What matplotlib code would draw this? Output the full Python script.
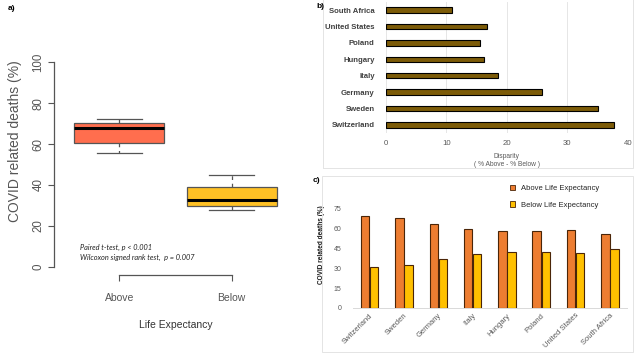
import matplotlib.pyplot as plt
from matplotlib.patches import Patch, Rectangle

plt.rcParams['font.family'] = ['Liberation Sans', 'DejaVu Sans']

# panel a: box summaries
groups = ['Above', 'Below']
box_low = [55.6, 28.0]
box_q1 = [60.7, 29.5]
box_med = [67.8, 32.7]
box_q3 = [70.2, 39.2]
box_high = [72.4, 44.7]
box_colors = ['#FF6E4E', '#FFC125']

# panel b / c data
countries = ['Switzerland', 'Sweden', 'Germany', 'Italy', 'Hungary',
             'Poland', 'United States', 'South Africa']
disparity = [37.8, 35.1, 25.9, 18.5, 16.2, 15.6, 16.7, 11.0]
above = [68.9, 67.4, 62.9, 59.1, 58.1, 57.6, 58.4, 55.4]
below = [31.1, 32.3, 36.8, 40.6, 41.9, 41.9, 41.6, 44.4]

fig = plt.figure(figsize=(6.4, 3.6), dpi=100)

# faint frames around the right-hand panels
for x0, y0, x1, y1 in [(323, -2, 633, 168), (322, 176, 633, 352)]:
    fig.patches.append(Rectangle((x0 / 640, 1 - y1 / 360), (x1 - x0) / 640, (y1 - y0) / 360,
                                 transform=fig.transFigure, fill=False,
                                 edgecolor='#e4e4e4', linewidth=0.7))

# ---- a) boxplot
ax_a = fig.add_axes([54 / 640, 1 - 275 / 360, (297 - 54) / 640, (275 - 54) / 360])
stats = []
for i, g in enumerate(groups):
    stats.append(dict(label=g, whislo=box_low[i], q1=box_q1[i], med=box_med[i],
                      q3=box_q3[i], whishi=box_high[i], fliers=[]))
bp = ax_a.bxp(stats, positions=[1, 2], widths=0.8, patch_artist=True, capwidths=0.4,
              boxprops=dict(edgecolor='#555555', linewidth=0.9),
              whiskerprops=dict(color='#555555', linestyle=(0, (3, 3)), linewidth=0.9),
              capprops=dict(color='#555555', linewidth=0.9),
              medianprops=dict(color='black', linewidth=2.2))
for patch, c in zip(bp['boxes'], box_colors):
    patch.set_facecolor(c)
ax_a.set_xlim(0.42, 2.58)
ax_a.set_ylim(-4, 104)
ax_a.set_yticks([0, 20, 40, 60, 80, 100])
ax_a.set_xticks([1, 2])
ax_a.set_xticklabels(groups, fontsize=7.5, color='#333333')
for lab in ax_a.get_yticklabels():
    lab.set_rotation(90)
    lab.set_va('center')
ax_a.tick_params(axis='y', labelsize=8.3, colors='#555555', labelcolor='#555555', length=4, pad=3)
ax_a.tick_params(axis='x', colors='#555555', length=4, pad=9)
for s in ['top', 'right']:
    ax_a.spines[s].set_visible(False)
ax_a.spines['left'].set_bounds(0, 100)
ax_a.spines['bottom'].set_bounds(1, 2)
for s in ['left', 'bottom']:
    ax_a.spines[s].set_color('#555555')
    ax_a.spines[s].set_linewidth(0.9)
ax_a.set_ylabel('COVID related deaths (%)', fontsize=10, color='#555555')
ax_a.yaxis.set_label_coords((22 - 54) / 243, (275 - 141) / 221)
ax_a.set_xlabel('Life Expectancy', fontsize=7.5, color='#333333', labelpad=12)
fig.text(80 / 640, 1 - 247 / 360, 'Paired t-test, p < 0.001', fontsize=5.3, style='italic',
         family='Lato', va='center', color='#222222')
fig.text(80 / 640, 1 - 257 / 360, 'Wilcoxon signed rank test,  p = 0.007', fontsize=5.3,
         style='italic', family='Lato', va='center', color='#222222')
fig.text(8 / 640, 1 - 8 / 360, 'a)', fontsize=6, fontweight='bold', va='center')

# ---- b) disparity
ax_b = fig.add_axes([385.7 / 640, 1 - 133.2 / 360, (627.7 - 385.7) / 640, (133.2 - 1.8) / 360])
ax_b.barh(range(len(countries)), disparity, height=0.33, color='#7C5B08',
          edgecolor='black', linewidth=0.8, zorder=3)
ax_b.set_xlim(0, 40)
ax_b.set_ylim(-0.5, len(countries) - 0.5)
ax_b.set_xticks([0, 10, 20, 30, 40])
ax_b.set_yticks(range(len(countries)))
ax_b.set_yticklabels(countries, fontsize=5.6, fontweight='bold', color='#404040')
ax_b.tick_params(axis='x', labelsize=5.6, colors='#595959', length=0, pad=5)
ax_b.tick_params(axis='y', length=0, pad=8)
ax_b.grid(axis='x', color='#e6e6e6', linewidth=0.7, zorder=0)
for s in ax_b.spines.values():
    s.set_visible(False)
ax_b.set_xlabel('Disparity\n( % Above - % Below )', fontsize=4.8, color='#595959',
                labelpad=4, linespacing=1.3)
fig.text(316 / 640, 1 - 6 / 360, 'b)', fontsize=6, fontweight='bold', va='center')

# ---- c) grouped bars
ax_c = fig.add_axes([352.5 / 640, 1 - 308 / 360, (627 - 352.5) / 640, (308 - 208.3) / 360])
idx = list(range(len(countries)))
w = 0.245
ax_c.bar([i - w / 2 - 0.01 for i in idx], above, width=w, color='#ED7D31',
         edgecolor='#4A2508', linewidth=0.8, label='Above Life Expectancy', zorder=3)
ax_c.bar([i + w / 2 + 0.01 for i in idx], below, width=w, color='#FFC000',
         edgecolor='#4A2508', linewidth=0.8, label='Below Life Expectancy', zorder=3)
ax_c.set_xlim(-0.5, len(countries) - 0.5)
ax_c.set_ylim(0, 75)
ax_c.set_yticks([0, 15, 30, 45, 60, 75])
ax_c.set_xticks(idx)
ax_c.set_xticklabels(countries, rotation=45, ha='right', rotation_mode='anchor',
                     fontsize=5.5, color='#595959')
ax_c.tick_params(axis='y', labelsize=5, colors='#595959', length=0, pad=8)
ax_c.tick_params(axis='x', length=0, pad=3)
for s in ['top', 'right', 'left']:
    ax_c.spines[s].set_visible(False)
ax_c.spines['bottom'].set_color('#d9d9d9')
ax_c.spines['bottom'].set_linewidth(0.7)
ax_c.set_ylabel('COVID related deaths (%)', fontsize=4.7, color='#1a1a1a', fontweight='bold')
ax_c.yaxis.set_label_coords((325 - 352.5) / 274.5, (308 - 245) / 99.7)
handles = [Patch(facecolor='#ED7D31', edgecolor='#4A2508', linewidth=0.6),
           Patch(facecolor='#FFC000', edgecolor='#4A2508', linewidth=0.6)]
fig.legend(handles, ['Above Life Expectancy', 'Below Life Expectancy'],
           loc='upper left', bbox_to_anchor=(503 / 640, 1 - 178 / 360), frameon=False,
           fontsize=5.5, handlelength=0.7, handleheight=0.7, labelspacing=1.2,
           handletextpad=0.8, labelcolor='#262626')
fig.text(313 / 640, 1 - 180 / 360, 'c)', fontsize=6, fontweight='bold', va='center')

fig.savefig('out.png', dpi=100)
